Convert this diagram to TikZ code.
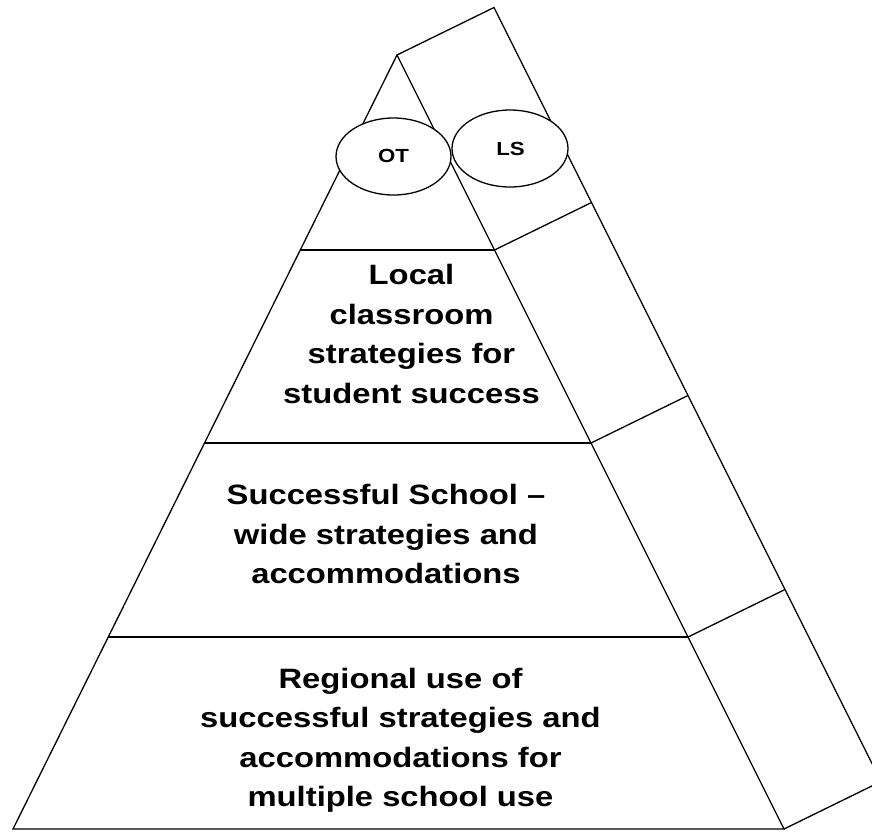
\documentclass[tikz,border=0pt]{standalone}
\usepackage{fontspec}
\newfontfamily\labfont{Liberation Sans}[FakeStretch=1.17]
\begin{document}
\begin{tikzpicture}[x=1pt,y=-1pt,
  edge/.style={draw=black,line width=1.3pt,line join=miter},
  layertext/.style={align=center,inner sep=0pt,font=\labfont\bfseries\fontsize{28}{39.5}\selectfont},
  bubbletext/.style={inner sep=0pt,font=\labfont\bfseries\fontsize{19}{22}\selectfont}]
\useasboundingbox (0,0) rectangle (872,831);
\clip (0,0) rectangle (872,831);
% pyramid corners
\coordinate (apex) at (397,55);
\coordinate (bl) at (13,829);
\coordinate (br) at (784,829);
% layer boundaries
\coordinate (l1) at (300.3,250);  \coordinate (r1) at (494.5,250);
\coordinate (l2) at (204.5,443);  \coordinate (r2) at (591,443);
\coordinate (l3) at (108.3,637);  \coordinate (r3) at (688,637);
% strip (offset 97,-47.5)
\coordinate (sapex) at (494,7.5);
\coordinate (s1) at (591.5,202.5);
\coordinate (s2) at (688,395.5);
\coordinate (s3) at (785,589.5);
\coordinate (sbr) at (881,781.5);
% pyramid
\draw[edge] (apex) -- (bl) -- (br) -- cycle;
\draw[edge] (l1) -- (r1);
\draw[edge] (l2) -- (r2);
\draw[edge] (l3) -- (r3);
% side strip
\draw[edge] (apex) -- (sapex) -- (sbr) -- (br);
\draw[edge] (r1) -- (s1);
\draw[edge] (r2) -- (s2);
\draw[edge] (r3) -- (s3);
% bubbles
\path[fill=white] (393.5,156.5) ellipse [x radius=57.5, y radius=38.5];
\path[fill=white] (510,148.5) ellipse [x radius=58, y radius=38.5];
\draw[edge] (393.5,156.5) ellipse [x radius=57.5, y radius=38.5];
\draw[edge] (510,148.5) ellipse [x radius=58, y radius=38.5];
\node[bubbletext] (ot) at (393.5,156) {OT};
\node[bubbletext] (ls) at (510.5,149) {LS};
% layer texts
\node[layertext] (t1) at (411.5,334) {Local\\classroom\\strategies for\\student success};
\node[layertext] (t2) at (386,534) {Successful School –\\wide strategies and\\accommodations};
\node[layertext] (t3) at (400.5,740) {Regional use of\\successful strategies and\\accommodations for\\multiple school use};
\end{tikzpicture}
\end{document}
